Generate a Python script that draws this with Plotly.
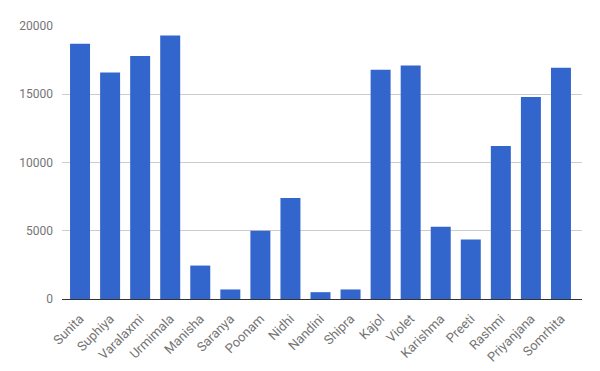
import plotly.graph_objects as go

names = ["Sunita", "Suphiya", "Varalaxmi", "Urmimala", "Manisha", "Saranya", "Poonam",
         "Nidhi", "Nandini", "Shipra", "Kajol", "Violet", "Karishma", "Preeti", "Rashmi",
         "Priyanjana", "Somrhita"]
values = [18700, 16600, 17800, 19300, 2450, 700, 5000, 7400, 500, 700, 16800, 17100,
          5300, 4350, 11200, 14800, 16950]
y_ticks = [0, 5000, 10000, 15000, 20000]

fig = go.Figure(go.Bar(x=names, y=values, marker=dict(color="#3366cc", line=dict(width=0)),
                       width=0.665))

# page body has an 8px default margin, so the figure is sized to fill the rest
fig.update_layout(
    width=592, height=363,
    margin=dict(l=54, r=18, t=18, b=72, autoexpand=False),
    paper_bgcolor="white", plot_bgcolor="white",
    font=dict(family="Roboto, Arial, sans-serif", size=12, color="#757575"),
    showlegend=False,
    xaxis=dict(tickangle=-45, showgrid=False, showline=True, linecolor="#333333",
               linewidth=1, ticks="", automargin=False, ticklabelstandoff=6,
               range=[-0.6, 16.7],
               tickfont=dict(size=13, color="#757575")),
    yaxis=dict(range=[0, 20000], tickvals=y_ticks, ticktext=[str(v) for v in y_ticks],
               showgrid=True, gridcolor="#cccccc", gridwidth=1, zeroline=False,
               showline=False, ticks="", ticklabelstandoff=8, automargin=False,
               tickfont=dict(size=12, color="#757575")),
)

fig.write_html("out.html")
